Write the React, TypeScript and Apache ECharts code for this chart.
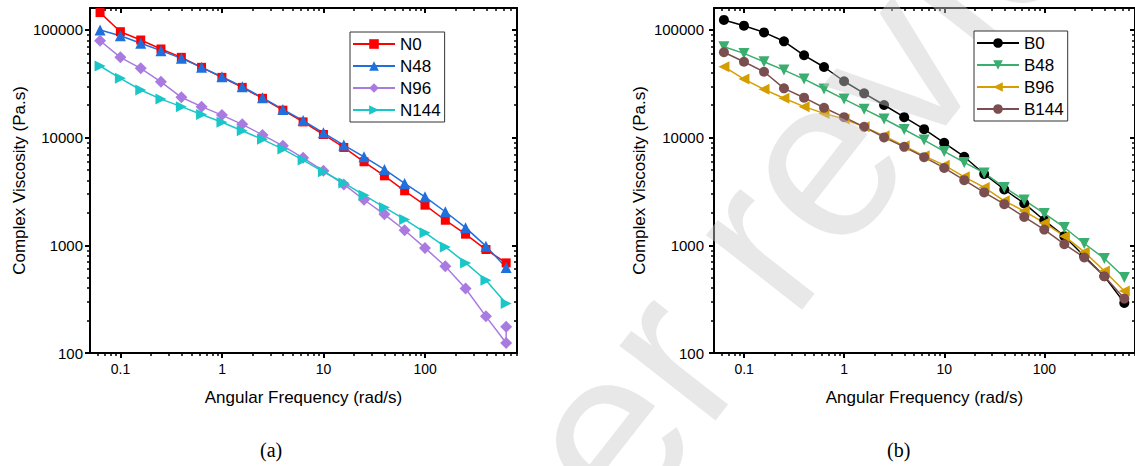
import React, { useEffect, useRef } from "react";
import * as echarts from "echarts";

// ---------- data ----------
const FREQ = [0.0628, 0.0996, 0.158, 0.25, 0.397, 0.628, 0.996, 1.58, 2.5, 3.97, 6.28, 9.96, 15.8, 25, 39.7, 62.8, 99.6, 158, 250, 397, 628];
const N96_FREQ = [0.0628, 0.0996, 0.158, 0.25, 0.397, 0.628, 0.996, 1.58, 2.5, 3.97, 6.28, 9.96, 15.8, 25, 39.7, 62.8, 99.6, 158, 250, 397, 628, 628];

const N0 = [145000, 96400, 80700, 66600, 55700, 45000, 36300, 29300, 23200, 18000, 14000, 10700, 8110, 5970, 4420, 3210, 2360, 1710, 1270, 914, 687];
const N48 = [100000, 88500, 75200, 64300, 54500, 45000, 36800, 29700, 23500, 18300, 14400, 11100, 8530, 6640, 5070, 3760, 2820, 2050, 1460, 982, 622];
const N96 = [79400, 55700, 44000, 33000, 23700, 19400, 16200, 13300, 10600, 8400, 6500, 4920, 3680, 2650, 1940, 1380, 946, 640, 397, 219, 124, 175];
const N144 = [46300, 35600, 27700, 22800, 19400, 16400, 13900, 11600, 9640, 7830, 6190, 4820, 3800, 2920, 2250, 1740, 1310, 967, 687, 474, 288];

const B0 = [124000, 109600, 95000, 78500, 58200, 45300, 33400, 25800, 20100, 15500, 12000, 8960, 6650, 4600, 3300, 2450, 1710, 1216, 793, 516, 292];
const B48 = [69900, 60600, 50700, 42400, 35000, 28300, 22800, 18400, 14900, 11900, 9490, 7450, 5890, 4700, 3450, 2630, 1980, 1465, 1040, 755, 502];
const B96 = [45600, 35000, 28100, 23200, 19400, 16800, 14900, 12600, 10400, 8400, 6780, 5550, 4330, 3450, 2590, 2080, 1615, 1216, 869, 578, 377];
const B144 = [62100, 50700, 40900, 28700, 23500, 18970, 15500, 12600, 10050, 8220, 6590, 5230, 4030, 3100, 2410, 1835, 1400, 1024, 771, 516, 320];

const X_MAJOR = [0.1, 1, 10, 100];
const X_MINOR = [0.06, 0.07, 0.08, 0.09, 0.2, 0.3, 0.4, 0.5, 0.6, 0.7, 0.8, 0.9, 2, 3, 4, 5, 6, 7, 8, 9, 20, 30, 40, 50, 60, 70, 80, 90, 200, 300, 400, 500, 600, 700, 800];
const Y_MAJOR = [100, 1000, 10000, 100000];
const Y_MINOR = [200, 300, 400, 500, 600, 700, 800, 900, 2000, 3000, 4000, 5000, 6000, 7000, 8000, 9000, 20000, 30000, 40000, 50000, 60000, 70000, 80000, 90000];

const X_TITLE = "Angular Frequency (rad/s)";
const Y_TITLE = "Complex Viscosity (Pa.s)";
const LEGEND_A = ["N0", "N48", "N96", "N144"];
const LEGEND_B = ["B0", "B48", "B96", "B144"];

const FONT = '"Liberation Sans", Arial, sans-serif';
const X_MIN = 0.05;
const X_MAX = 803;
const Y_MIN = 100;
const Y_MAX = 160000;

function xAxes(grid: number) {
  const base = {
    type: "log",
    logBase: 10,
    gridIndex: grid,
    min: X_MIN,
    max: X_MAX,
    splitLine: { show: false },
    minorTick: { show: false },
    minorSplitLine: { show: false },
  };
  return [
    {
      ...base,
      position: "bottom",
      name: X_TITLE,
      nameLocation: "middle",
      nameGap: 36,
      nameTextStyle: { fontSize: 17, color: "#000", fontFamily: FONT },
      axisLine: { show: true, onZero: false, lineStyle: { color: "#000", width: 2 } },
      axisTick: { show: true, inside: false, length: 5, lineStyle: { color: "#000", width: 2 }, customValues: X_MAJOR },
      axisLabel: { show: true, customValues: X_MAJOR, margin: 9, fontSize: 14, color: "#000", fontFamily: FONT, formatter: (v: number) => String(v) },
    },
    {
      ...base,
      position: "bottom",
      axisLine: { show: false },
      axisTick: { show: true, inside: false, length: 3, lineStyle: { color: "#000", width: 1.5 }, customValues: X_MINOR },
      axisLabel: { show: false },
    },
    {
      ...base,
      position: "top",
      axisLine: { show: true, onZero: false, lineStyle: { color: "#000", width: 2 } },
      axisTick: { show: true, inside: true, length: 5, lineStyle: { color: "#000", width: 2 }, customValues: X_MAJOR },
      axisLabel: { show: false },
    },
    {
      ...base,
      position: "top",
      axisLine: { show: false },
      axisTick: { show: true, inside: true, length: 3, lineStyle: { color: "#000", width: 1.5 }, customValues: X_MINOR },
      axisLabel: { show: false },
    },
  ];
}

function yAxes(grid: number, nameGap: number, labelMargin: number) {
  const base = {
    type: "log",
    logBase: 10,
    gridIndex: grid,
    min: Y_MIN,
    max: Y_MAX,
    splitLine: { show: false },
    minorTick: { show: false },
    minorSplitLine: { show: false },
  };
  return [
    {
      ...base,
      position: "left",
      name: Y_TITLE,
      nameLocation: "middle",
      nameGap,
      nameTextStyle: { fontSize: 17, color: "#000", fontFamily: FONT },
      axisLine: { show: true, onZero: false, lineStyle: { color: "#000", width: 2 } },
      axisTick: { show: true, inside: false, length: 5, lineStyle: { color: "#000", width: 2 }, customValues: Y_MAJOR },
      axisLabel: { show: true, customValues: Y_MAJOR, margin: labelMargin, fontSize: 15, color: "#000", fontFamily: FONT, formatter: (v: number) => String(v) },
    },
    {
      ...base,
      position: "left",
      axisLine: { show: false },
      axisTick: { show: true, inside: false, length: 3, lineStyle: { color: "#000", width: 1.5 }, customValues: Y_MINOR },
      axisLabel: { show: false },
    },
    {
      ...base,
      position: "right",
      axisLine: { show: true, onZero: false, lineStyle: { color: "#000", width: 2 } },
      axisTick: { show: true, inside: true, length: 5, lineStyle: { color: "#000", width: 2 }, customValues: Y_MAJOR },
      axisLabel: { show: false },
    },
    {
      ...base,
      position: "right",
      axisLine: { show: false },
      axisTick: { show: true, inside: true, length: 3, lineStyle: { color: "#000", width: 1.5 }, customValues: Y_MINOR },
      axisLabel: { show: false },
    },
  ];
}

function line(name: string, freq: number[], vals: number[], color: string, symbol: string, size: number, rotate: number, axis: number) {
  return {
    type: "line",
    name,
    xAxisIndex: axis,
    yAxisIndex: axis,
    data: vals.map((v, i) => [freq[i], v]),
    symbol,
    symbolSize: size,
    symbolRotate: rotate,
    showSymbol: true,
    lineStyle: { color, width: 1.5 },
    itemStyle: { color, borderWidth: 0 },
    emphasis: { disabled: true },
  };
}

function legend(names: string[], left: number, top: number) {
  return {
    orient: "vertical",
    left,
    top,
    z: 10,
    data: names,
    backgroundColor: "#fff",
    borderColor: "#333",
    borderWidth: 1,
    borderRadius: 0,
    padding: [3, 4, 3, 2],
    itemWidth: 42,
    itemHeight: 12,
    itemGap: 4,
    textStyle: { fontSize: 17, lineHeight: 18, color: "#000", fontFamily: FONT },
    selectedMode: false,
  };
}

export default function App() {
  const ref = useRef<HTMLDivElement>(null);
  useEffect(() => {
    if (!ref.current) return;
    const chart = echarts.init(ref.current, undefined, { renderer: "svg" });
    chart.setOption({
      animation: false,
      backgroundColor: "#fff",
      textStyle: { fontFamily: FONT },
      grid: [
        { left: 90, top: 8, width: 427, height: 345, containLabel: false },
        { left: 714, top: 8, width: 427, height: 345, containLabel: false },
      ],
      xAxis: [...xAxes(0), ...xAxes(1)],
      yAxis: [...yAxes(0, 62, 7), ...yAxes(1, 66, 10)],
      legend: [legend(LEGEND_A, 350, 32), legend(LEGEND_B, 974, 31)],
      series: [
        line("N0", FREQ, N0, "#FF0000", "rect", 9, 0, 0),
        line("N48", FREQ, N48, "#1F6FDC", "triangle", 11, 0, 0),
        line("N96", N96_FREQ, N96, "#A97BE0", "diamond", 12, 0, 0),
        line("N144", FREQ, N144, "#1AC6C8", "triangle", 11, -90, 0),
        line("B0", FREQ, B0, "#000000", "circle", 10, 0, 4),
        line("B48", FREQ, B48, "#3AAE6E", "triangle", 11, 180, 4),
        line("B96", FREQ, B96, "#D59E00", "triangle", 11, 90, 4),
        line("B144", FREQ, B144, "#7B4F4F", "circle", 10, 0, 4),
      ],
      graphic: [
        {
          type: "text",
          left: 260,
          top: 440,
          style: { text: "(a)", fontSize: 20, fontFamily: '"Liberation Serif", "Times New Roman", serif', fill: "#000" },
        },
        {
          type: "text",
          left: 887,
          top: 440,
          style: { text: "(b)", fontSize: 20, fontFamily: '"Liberation Serif", "Times New Roman", serif', fill: "#000" },
        },
        {
          type: "text",
          x: 765,
          y: 228,
          rotation: (52 * Math.PI) / 180,
          z: 5,
          silent: true,
          style: {
            text: "Peer review",
            fontSize: 230,
            fontFamily: FONT,
            fill: "rgba(205,205,205,0.45)",
            align: "center",
            verticalAlign: "middle",
            textAlign: "center",
            textVerticalAlign: "middle",
          },
        },
      ],
    });
    return () => chart.dispose();
  }, []);
  return <div ref={ref} style={{ position: "fixed", left: 0, top: 0, width: 1135, height: 466 }} />;
}
